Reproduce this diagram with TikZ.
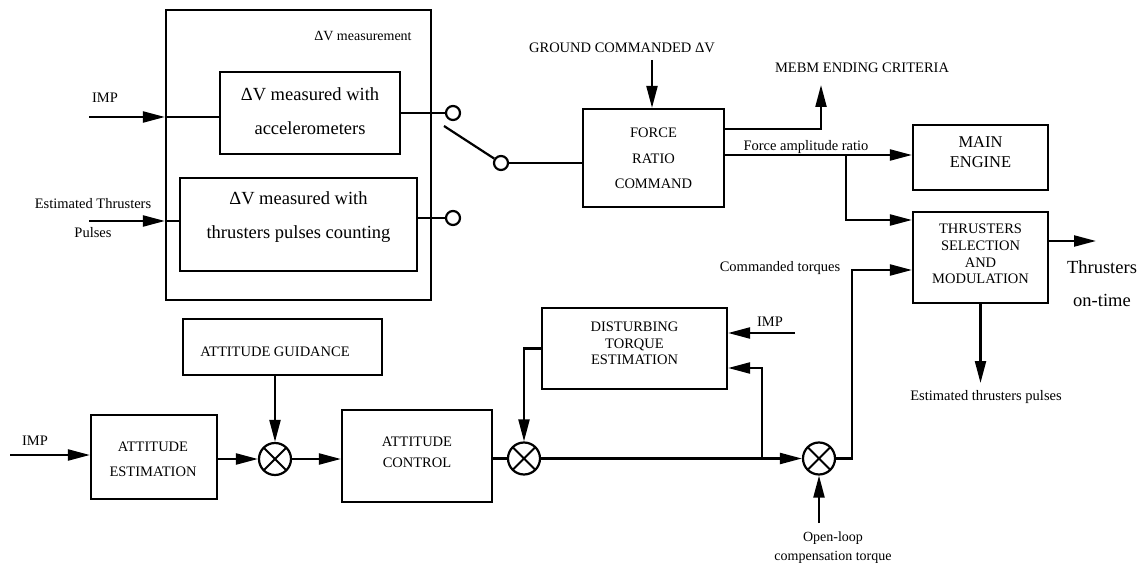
\documentclass[tikz,border=0pt]{standalone}
\usepackage{fontspec}
\setmainfont{Liberation Serif}
\usetikzlibrary{arrows.meta,calc}
\begin{document}
\begin{tikzpicture}[x=1pt,y=-1pt, line width=2.2pt,
  box/.style={draw, rectangle, inner sep=0pt},
  arr/.style={-{Triangle[length=22pt,width=11pt]}},
  sumnode/.style={draw, circle, minimum size=32pt, inner sep=0pt,
    path picture={\draw[line width=2pt] (path picture bounding box.south west) -- (path picture bounding box.north east)
      (path picture bounding box.north west) -- (path picture bounding box.south east);}},
  cont/.style={draw, circle, minimum size=14pt, inner sep=0pt},
  lab/.style={inner sep=0pt, align=center, font=\fontsize{14.5}{#1}\selectfont},
  lab/.default=17,
  caps/.style={inner sep=0pt, align=center, font=\fontsize{14.5}{#1}\selectfont},
  caps/.default=17,
  big/.style={inner sep=0pt, align=center, font=\fontsize{18.5}{#1}\selectfont},
  big/.default=34
]
\useasboundingbox (0,0) rectangle (1140,569);

% ---- boxes ----
\node[box, minimum width=265pt, minimum height=290pt] (outer) at (298.5,155) {};
\node[box, minimum width=180pt, minimum height=82pt] (acc) at (310,113) {};
\node[box, minimum width=237pt, minimum height=93pt] (cnt) at (298.5,224.5) {};
\node[box, minimum width=141pt, minimum height=98pt] (force) at (653.5,158) {};
\node[box, minimum width=135pt, minimum height=65pt] (main) at (980.5,157.5) {};
\node[box, minimum width=135pt, minimum height=91pt] (thr) at (980.5,257.5) {};
\node[box, minimum width=185pt, minimum height=81pt] (dist) at (634.5,348.5) {};
\node[box, minimum width=199pt, minimum height=56pt] (guid) at (282.5,347) {};
\node[box, minimum width=126pt, minimum height=84pt] (est) at (154,457) {};
\node[box, minimum width=150pt, minimum height=92pt] (ctrl) at (417,456) {};

% ---- summing junctions and switch contacts ----
\node[sumnode] (sum1) at (275,459) {};
\node[sumnode] (sum2) at (524,458.5) {};
\node[sumnode] (sum3) at (819,458.5) {};
\node[cont] (c1) at (453,113) {};
\node[cont] (c2) at (453,218) {};
\node[cont] (pole) at (501,163) {};

% ---- texts ----
\node[inner sep=0pt, font=\fontsize{14}{16}\selectfont] (meas) at (363,36) {ΔV measurement};
\node[big] (acct) at (310,111) {ΔV measured with\\accelerometers};
\node[big] (cntt) at (298.5,217) {ΔV measured with\\thrusters pulses counting};
\node[lab] (impl1) at (105,98) {IMP};
\node[lab=29] (etpl) at (93,218.5) {Estimated Thrusters\\Pulses};
\node[caps] (gndl) at (622,48) {GROUND COMMANDED ΔV};
\node[caps=25.5] (forcet) at (653.5,158.5) {FORCE\\RATIO\\COMMAND};
\node[caps] (mebml) at (862,68) {MEBM ENDING CRITERIA};
\node[lab] (fal) at (806,147) {Force amplitude ratio};
\node[inner sep=0pt, align=center, font=\fontsize{16.5}{20}\selectfont] (maint) at (980.5,152) {MAIN\\ENGINE};
\node[caps=16.7] (thrt) at (980.5,254) {THRUSTERS\\SELECTION\\AND\\MODULATION};
\node[big=33] (ontl) at (1102,283.5) {Thrusters\\on-time};
\node[lab] (etpl2) at (986,397) {Estimated thrusters pulses};
\node[lab] (ctl) at (780,268) {Commanded torques};
\node[lab] (impl2) at (770,322) {IMP};
\node[caps=16.5] (distt) at (634.5,343.5) {DISTURBING\\TORQUE\\ESTIMATION};
\node[inner sep=0pt, align=center, font=\fontsize{14}{19}\selectfont] (oll) at (833,547.5) {Open-loop\\compensation torque};
\node[caps] (guidt) at (275,352) {ATTITUDE GUIDANCE};
\node[lab] (impl3) at (35,441) {IMP};
\node[caps=25] (estt) at (153,459.5) {ATTITUDE\\ESTIMATION};
\node[caps=21] (ctrlt) at (417,452.5) {ATTITUDE\\CONTROL};

% ---- free ends ----
\coordinate (impA) at (89,117);
\coordinate (etpA) at (89,221);
\coordinate (sw) at (444,126);
\coordinate (gnd) at (652,60);
\coordinate (mebm) at (821,85);
\coordinate (br) at (846,155);
\coordinate (onT) at (1096,241);
\coordinate (etp) at (980.5,383);
\coordinate (impD) at (795,333);
\coordinate (fb) at (762,458.5);
\coordinate (ol) at (819,523);
\coordinate (impE) at (10,455);

% ---- connectors ----
\draw[arr] (impA) -- (impA -| outer.west);
\draw (impA -| outer.west) -- (impA -| acc.west);
\draw[arr] (etpA) -- (etpA -| outer.west);
\draw (etpA -| outer.west) -- (etpA -| cnt.west);
\draw (acc) -- (c1);
\draw (c2 -| cnt.east) -- (c2);
\draw (sw) -- (pole);
\draw (pole) -- (pole -| force.west);
\draw[arr] (gnd) -- (gnd |- force.north);
\draw[arr] ([yshift=29pt]force.east) -| (mebm);
\draw[arr] ([yshift=3pt]force.east) -- ([yshift=3pt]force.east -| main.west);
\draw[arr] (br) |- ([yshift=37.5pt]thr.west);
\draw[arr] ([yshift=16.5pt]thr.east) -- (onT);
\draw[arr] (thr.south) -- (etp);
\draw[arr] (sum3.east) -- ++(16,0) |- ([yshift=-12.5pt]thr.west);
\draw[arr] (impD) -- (impD -| dist.east);
\draw[arr] (sum2) -- (sum3);
\draw[arr] (fb) |- ([yshift=-19.5pt]dist.east);
\draw[arr] (dist.west) -| (sum2.north);
\draw[arr] (ol) -- (sum3.south);
\draw[arr] (impE) -- (impE -| est.west);
\draw[arr] (sum1 -| est.east) -- (sum1);
\draw[arr] (sum1 |- guid.south) -- (sum1);
\draw[arr] (sum1) -- (sum1 -| ctrl.west);
\draw (sum2 -| ctrl.east) -- (sum2);
\end{tikzpicture}
\end{document}
